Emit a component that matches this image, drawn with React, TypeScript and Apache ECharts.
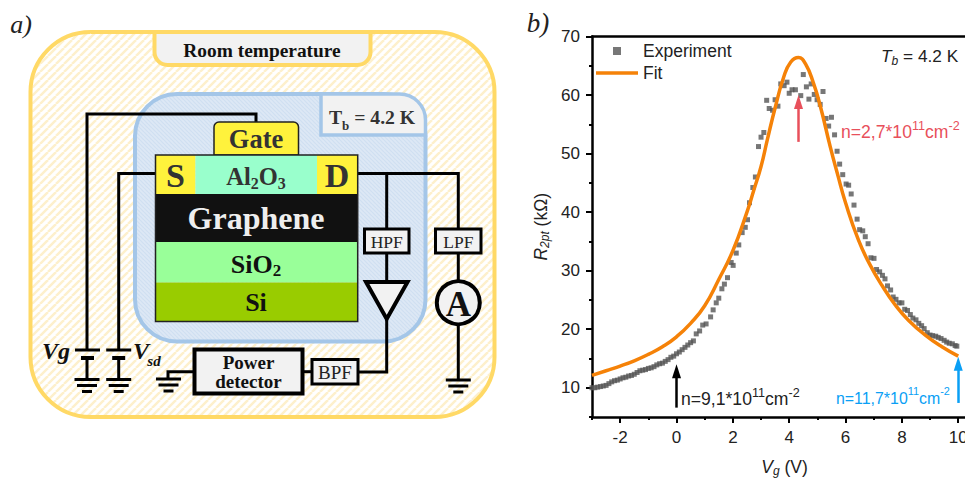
import React, { useEffect, useRef } from "react";
import * as echarts from "echarts";

const xTicks = [-2, 0, 2, 4, 6, 8, 10];
const xMinorTicks = [-3, -1, 1, 3, 5, 7, 9];
const yTicks = [10, 20, 30, 40, 50, 60, 70];
const yMinorTicks = [5, 15, 25, 35, 45, 55, 65];

const experiment: [number, number][] = [
  [-3, 10.0], [-2.9, 10.0], [-2.8, 10.1], [-2.7, 10.2], [-2.6, 10.3], [-2.5, 10.4], [-2.4, 10.7], [-2.3, 11.0],
  [-2.2, 11.2], [-2.1, 11.3], [-2.0, 11.5], [-1.9, 11.7], [-1.8, 11.8], [-1.7, 12.0], [-1.6, 12.1], [-1.5, 12.3],
  [-1.4, 12.6], [-1.3, 12.9], [-1.2, 13.0], [-1.1, 13.1], [-1.0, 13.3], [-0.9, 13.4], [-0.8, 13.6], [-0.7, 13.9],
  [-0.6, 14.1], [-0.5, 14.2], [-0.4, 14.5], [-0.3, 14.8], [-0.2, 15.2], [-0.1, 15.4], [0, 15.8], [0.1, 16.1],
  [0.2, 16.5], [0.3, 16.9], [0.4, 17.3], [0.5, 17.7], [0.6, 18.0], [0.7, 19.2], [0.82, 19.7], [0.93, 20.7],
  [1.05, 20.9], [1.21, 22.1], [1.3, 23.3], [1.41, 24.5], [1.5, 25.3], [1.61, 26.9], [1.7, 27.7], [1.81, 28.8],
  [1.94, 31.4], [2.01, 30.9], [2.12, 33.0], [2.21, 34.4], [2.33, 36.5], [2.44, 37.4], [2.52, 38.7], [2.59, 41.6],
  [2.71, 44.2], [2.8, 46.0], [2.91, 51.2], [3.0, 52.8], [3.1, 53.6], [3.2, 59.1], [3.29, 57.7], [3.41, 57.4],
  [3.5, 59.2], [3.6, 58.1], [3.7, 61.9], [3.82, 61.6], [3.92, 62.2], [4.0, 60.3], [4.1, 60.9], [4.22, 60.9],
  [4.41, 59.9], [4.5, 63.5], [4.61, 61.4], [4.7, 59.3], [4.78, 61.9], [4.89, 60.1], [4.99, 59.2], [5.1, 58.4],
  [5.2, 60.6], [5.31, 56.0], [5.4, 54.7], [5.5, 56.2], [5.61, 53.2], [5.7, 50.4], [5.79, 48.2], [5.9, 46.4],
  [6.02, 44.8], [6.11, 44.6], [6.2, 43.1], [6.3, 41.2], [6.41, 38.8], [6.5, 37.0], [6.61, 36.8], [6.7, 35.8],
  [6.8, 34.6], [6.9, 32.2], [7.01, 32.1], [7.1, 30.2], [7.21, 29.8], [7.31, 29.2], [7.4, 28.6], [7.49, 27.4],
  [7.6, 26.7], [7.69, 25.5], [7.79, 25.1], [7.9, 24.5], [8.0, 24.5], [8.1, 23.4], [8.2, 23.2], [8.3, 22.5],
  [8.39, 21.9], [8.5, 21.6], [8.6, 21.0], [8.7, 20.6], [8.79, 20.1], [8.9, 19.4], [9.0, 19.0], [9.09, 18.9],
  [9.2, 18.8], [9.29, 18.6], [9.39, 18.4], [9.5, 18.1], [9.59, 17.8], [9.68, 17.6], [9.79, 17.5], [9.89, 17.2],
  [9.95, 17.1],
];

const fit: [number, number][] = [
  [-3, 12.1], [-2.5, 12.9], [-2, 13.7], [-1.5, 14.6], [-1, 15.7], [-0.5, 17.0], [0, 18.7], [0.5, 21.0],
  [1, 24.0], [1.5, 28.5], [2, 33.4], [2.5, 40.0], [2.74, 43.7], [3, 47.8], [3.22, 52.3], [3.51, 58.0],
  [3.8, 63.0], [4.05, 65.6], [4.33, 66.4], [4.57, 65.4], [4.87, 61.9], [5.11, 58.0], [5.46, 51.1], [5.72, 46.4],
  [6, 41.6], [6.46, 35.2], [6.88, 30.9], [7.29, 27.5], [7.77, 24.1], [8.24, 21.5], [8.83, 19.0], [9.42, 17.0],
  [10, 15.4],
];

const arrows: { x: number; from: number; to: number; color: string }[] = [
  { x: 4.33, from: 52, to: 58.8, color: "#E8505B" },
  { x: 0, from: 6.6, to: 12.8, color: "#000000" },
  { x: 10, from: 7.4, to: 14.1, color: "#0A9FF5" },
];

const SERIF = "'Liberation Serif','Times New Roman',serif";
const SANS = "'Liberation Sans',Arial,sans-serif";
const YELLOW = "#FFD966";
const BLUE = "#A4C6E8";
const PANEL = "#F2F2F2";
const ORANGE = "#F58208";
const CHIP = "#FFF23C";

function hatch(size: number, bg: string, fg: string, width: number, forward: boolean) {
  const c = document.createElement("canvas");
  c.width = size;
  c.height = size;
  const g = c.getContext("2d")!;
  g.fillStyle = bg;
  g.fillRect(0, 0, size, size);
  g.strokeStyle = fg;
  g.lineWidth = width;
  for (let k = -1; k <= 1; k++) {
    g.beginPath();
    if (forward) {
      g.moveTo(k * size, size);
      g.lineTo(k * size + size, 0);
    } else {
      g.moveTo(k * size, 0);
      g.lineTo(k * size + size, size);
    }
    g.stroke();
  }
  return { image: c, repeat: "repeat", imageWidth: size, imageHeight: size };
}

const wire = (points: number[][], w = 3) => ({
  type: "polyline",
  shape: { points },
  style: { stroke: "#000", lineWidth: w, fill: "none", lineJoin: "miter" },
});
const bar = (x1: number, x2: number, y: number, w = 3) => ({
  type: "line",
  shape: { x1, y1: y, x2, y2: y },
  style: { stroke: "#000", lineWidth: w },
});
const box = (x: number, y: number, width: number, height: number, fill: string, stroke = "#000", lineWidth = 3, r: any = 0) => ({
  type: "rect",
  shape: { x, y, width, height, r },
  style: { fill, stroke, lineWidth },
});
const label = (x: number, y: number, text: string, fontSize: number, fill = "#111", fontWeight = "bold", fontStyle = "normal") => ({
  type: "text",
  x,
  y,
  style: { text, fontFamily: SERIF, fontSize, fontWeight, fontStyle, fill, align: "center", verticalAlign: "middle" },
});
const richLabel = (x: number, y: number, text: string, rich: any, align = "center") => ({
  type: "text",
  x,
  y,
  style: { text, rich, align, verticalAlign: "middle" },
});
const ground = (cx: number, y: number) => [
  bar(cx - 12.5, cx + 12.5, y),
  bar(cx - 10, cx + 10, y + 6),
  bar(cx - 5, cx + 5, y + 12),
];
const annotation = (x: number, y: number, head: string, fill: string, fontSize: number) =>
  richLabel(
    x,
    y,
    `{a|${head}}{s|11}{a|cm}{s|-2}`,
    {
      a: { fontFamily: SANS, fontSize, fill, lineHeight: 21, verticalAlign: "bottom" },
      s: { fontFamily: SANS, fontSize: fontSize - 5, fill, lineHeight: 21, verticalAlign: "top" },
    },
    "left"
  );

function diagram() {
  const outerFill = hatch(8, "#FFFFFF", "#FDF0CC", 2.5, true);
  const innerFill = hatch(4, "#DDE8F5", "#CFDFF1", 1.2, false);
  const boldRun = (fontSize: number, fill = "#333") => ({ fontFamily: SERIF, fontWeight: "bold", fontSize, fill, lineHeight: 30, verticalAlign: "middle" });
  const subRun = (fontSize: number, fill = "#333") => ({ fontFamily: SERIF, fontWeight: "bold", fontSize, fill, lineHeight: 30, verticalAlign: "bottom" });
  return [
    box(30.5, 32, 464, 385, outerFill, YELLOW, 4, 60),
    box(154.5, 32, 216, 33, PANEL, YELLOW, 4, [0, 0, 13, 13]),
    label(262, 50, "Room temperature", 19.4),
    box(135, 94, 290.5, 247.5, innerFill, BLUE, 4, 42),
    box(321, 94, 104.5, 41, PANEL, BLUE, 3.5, [0, 26, 0, 0]),
    richLabel(372, 117, "{a|T}{s|b}{a| = 4.2 K}", { a: boldRun(19.7), s: subRun(13) }),
    wire([[87, 351], [87, 114], [256, 114], [256, 122]]),
    wire([[118.7, 351], [118.7, 173.5], [156, 173.5]]),
    wire([[357, 173.5], [458.3, 173.5], [458.3, 229]]),
    wire([[386.7, 173.5], [386.7, 229]]),
    box(214, 122, 84.5, 33, CHIP, "#222", 1.5, [5, 5, 0, 0]),
    label(256, 139, "Gate", 26.5, "#333"),
    box(155.5, 155, 40, 39, CHIP, "none", 0),
    box(195.5, 155, 121.5, 39, "#99FFCC", "none", 0),
    box(317, 155, 40.7, 39, CHIP, "none", 0),
    box(155.5, 194, 202.2, 48, "#111111", "none", 0),
    box(155.5, 242, 202.2, 40.5, "#99FF99", "none", 0),
    box(155.5, 282.5, 202.2, 39, "#99CC00", "none", 0),
    box(155.5, 155, 202.2, 166.5, "none", "#222", 1.5),
    label(175.5, 175, "S", 34, "#333"),
    label(337, 175, "D", 34, "#333"),
    richLabel(256, 176, "{a|Al}{s|2}{a|O}{s|3}", { a: boldRun(24.5), s: subRun(16) }),
    label(256, 218, "Graphene", 32, "#EEEEEE"),
    richLabel(256, 264, "{a|SiO}{s|2}", { a: boldRun(26, "#111"), s: subRun(17, "#111") }),
    label(256, 302, "Si", 26, "#111"),
    box(364.5, 229, 44.5, 24, PANEL),
    label(386.7, 241.5, "HPF", 17.5, "#222", "normal"),
    box(435.5, 229, 45.5, 24, PANEL),
    label(458.3, 241.5, "LPF", 17.5, "#222", "normal"),
    wire([[386.7, 253], [386.7, 282]]),
    { type: "polygon", shape: { points: [[366, 282], [407.5, 282], [386.7, 319]] }, style: { fill: PANEL, stroke: "#000", lineWidth: 4, lineJoin: "miter" } },
    wire([[386.7, 319], [386.7, 372], [358, 372]]),
    box(312, 359.5, 46, 24.5, PANEL),
    label(335, 372, "BPF", 19, "#222", "normal"),
    wire([[312, 371.7], [302, 371.7]]),
    box(194.5, 349.5, 108, 44, PANEL, "#000", 4),
    label(248.5, 362, "Power", 19, "#111"),
    label(248.5, 381.5, "detector", 19, "#111"),
    wire([[194, 371.7], [168, 371.7], [168, 378.7]]),
    ...ground(168.5, 379),
    wire([[458.3, 253], [458.3, 281]]),
    { type: "circle", shape: { cx: 458.3, cy: 302.7, r: 21.5 }, style: { fill: PANEL, stroke: "#000", lineWidth: 4 } },
    label(458.3, 304, "A", 35, "#111"),
    wire([[458.3, 324], [458.3, 380]]),
    ...ground(458.3, 380),
    bar(75, 100, 350),
    bar(81, 94, 358, 4),
    wire([[87, 358], [87, 379.5]]),
    ...ground(87, 379.5),
    bar(106.2, 131.2, 350),
    bar(112.2, 125.2, 358, 4),
    wire([[118.7, 358], [118.7, 379.5]]),
    ...ground(118.7, 379.5),
    label(56, 351, "Vg", 24, "#111", "bold", "italic"),
    label(141, 351, "V", 24, "#111", "bold", "italic"),
    label(154, 361, "sd", 15, "#111", "bold", "italic"),
    label(21, 24, "a)", 26, "#222", "normal", "italic"),
    label(538, 23, "b)", 27, "#222", "normal", "italic"),
    richLabel(881, 56, "{i|T}{s|b}{n| = 4.2 K}", {
      i: { fontFamily: SANS, fontSize: 17.3, fontStyle: "italic", fill: "#222", lineHeight: 21, verticalAlign: "middle" },
      s: { fontFamily: SANS, fontSize: 12, fontStyle: "italic", fill: "#222", lineHeight: 21, verticalAlign: "bottom" },
      n: { fontFamily: SANS, fontSize: 17.3, fill: "#222", lineHeight: 21, verticalAlign: "middle" },
    }, "left"),
    annotation(841, 130, "n=2,7*10", "#E8505B", 17.6),
    annotation(681, 397, "n=9,1*10", "#222222", 17.6),
    annotation(836, 396, "n=11,7*10", "#0A9FF5", 15.9),
  ];
}

export default function App() {
  const ref = useRef<HTMLDivElement>(null);
  useEffect(() => {
    document.body.style.margin = "0";
    const chart = echarts.init(ref.current!, undefined, { renderer: "svg" });
    const axisFont = { fontFamily: SANS, fontSize: 17, color: "#222" };
    const blackLine = { show: true, onZero: false, lineStyle: { color: "#000", width: 2.5 } };
    const xRange = { type: "value", min: -3, max: 10.24 };
    const yRange = { type: "value", min: 5, max: 70 };
    const nameRuns = {
      i: { fontFamily: SANS, fontSize: 17.5, fontStyle: "italic", color: "#222", lineHeight: 20, verticalAlign: "middle" },
      s: { fontFamily: SANS, fontSize: 12, fontStyle: "italic", color: "#222", lineHeight: 20, verticalAlign: "bottom" },
      n: { fontFamily: SANS, fontSize: 17.5, color: "#222", lineHeight: 20, verticalAlign: "middle" },
    };
    chart.setOption({
      animation: false,
      backgroundColor: "#FFFFFF",
      textStyle: { fontFamily: SANS },
      graphic: { elements: diagram() },
      legend: {
        left: 596,
        top: 42,
        orient: "vertical",
        padding: 0,
        itemWidth: 42,
        itemHeight: 8,
        itemGap: 4,
        selectedMode: false,
        textStyle: { ...axisFont, fontSize: 17.5, padding: 0 },
        data: [
          { name: "Experiment", icon: "path://M0 0M42 8M17 0h8v8h-8z" },
          { name: "Fit", icon: "path://M0 0M42 8M0 2.2h42v3.6h-42z" },
        ],
      },
      grid: { left: 592, top: 36.5, width: 373, height: 380.5, containLabel: false, outerBoundsMode: "none" },
      xAxis: [
        {
          ...xRange,
          position: "bottom",
          axisLine: blackLine,
          splitLine: { show: false },
          axisTick: { show: true, length: 6, customValues: xTicks, lineStyle: { color: "#000", width: 2 } },
          axisLabel: { ...axisFont, margin: 12, customValues: xTicks },
          name: "{i|V}{s|g}{n| (V)}",
          nameLocation: "middle",
          nameGap: 40,
          nameTextStyle: { padding: [0, 0, 0, 12], rich: nameRuns },
        },
        {
          ...xRange,
          position: "bottom",
          axisLine: { show: false, onZero: false },
          splitLine: { show: false },
          axisTick: { show: true, length: 3, customValues: xMinorTicks, lineStyle: { color: "#000", width: 2 } },
          axisLabel: { show: false },
        },
        {
          ...xRange,
          position: "top",
          axisLine: blackLine,
          splitLine: { show: false },
          axisTick: { show: false },
          axisLabel: { show: false },
        },
      ],
      yAxis: [
        {
          ...yRange,
          position: "left",
          axisLine: blackLine,
          splitLine: { show: false },
          axisTick: { show: true, length: 6, customValues: yTicks, lineStyle: { color: "#000", width: 2 } },
          axisLabel: { ...axisFont, margin: 12, customValues: yTicks },
          name: "{i|R}{s|2pt}{n| (kΩ)}",
          nameLocation: "middle",
          nameGap: 41,
          nameRotate: 90,
          nameTextStyle: { rich: nameRuns },
        },
        {
          ...yRange,
          position: "left",
          axisLine: { show: false, onZero: false },
          splitLine: { show: false },
          axisTick: { show: true, length: 3, customValues: yMinorTicks, lineStyle: { color: "#000", width: 2 } },
          axisLabel: { show: false },
        },
      ],
      series: [
        {
          name: "Experiment",
          type: "scatter",
          xAxisIndex: 0,
          yAxisIndex: 0,
          data: experiment,
          symbol: "rect",
          symbolSize: 5,
          itemStyle: { color: "#555555" },
        },
        {
          name: "Fit",
          type: "line",
          xAxisIndex: 0,
          yAxisIndex: 0,
          data: fit,
          smooth: 0.5,
          symbol: "none",
          lineStyle: { color: ORANGE, width: 3.5 },
          itemStyle: { color: ORANGE },
          markLine: {
            silent: true,
            animation: false,
            symbol: ["none", "path://M0 0M14 14M7 0L11.5 14L2.5 14Z"],
            symbolSize: 14,
            label: { show: false },
            data: arrows.map((a) => [
              { coord: [a.x, a.from], lineStyle: { color: a.color, width: 2.5, type: "solid" } },
              { coord: [a.x, a.to] },
            ]),
          },
        },
      ],
    });
    return () => chart.dispose();
  }, []);
  return <div ref={ref} style={{ position: "fixed", left: 0, top: 0, width: 965, height: 479 }} />;
}
